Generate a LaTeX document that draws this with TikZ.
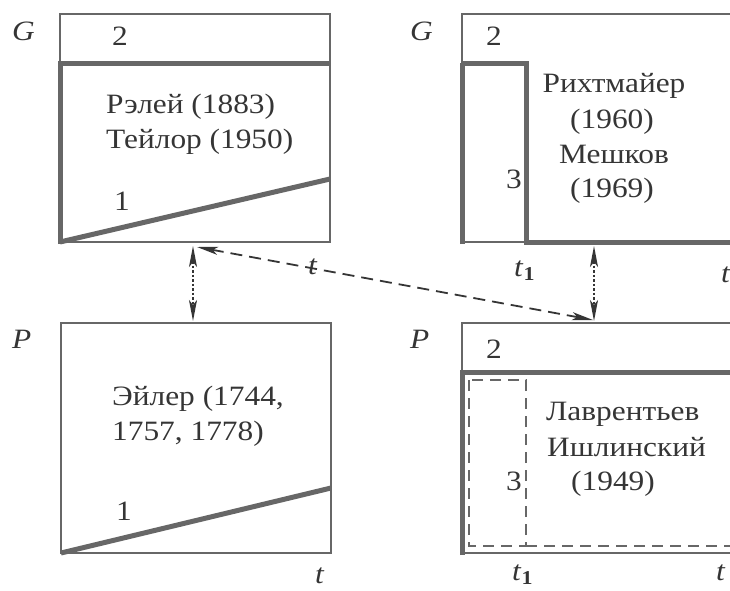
\documentclass[tikz,border=0pt]{standalone}
\usepackage{fontspec}
\setmainfont{Liberation Serif}[FakeStretch=1.12]
\usetikzlibrary{arrows.meta}
\definecolor{frame}{HTML}{676767}
\definecolor{ink}{HTML}{353535}
\begin{document}
\begin{tikzpicture}[x=1pt,y=-1pt,
  thinline/.style={draw=frame,line width=2.4pt},
  thickline/.style={draw=frame,line width=5pt},
  dashline/.style={draw=frame,line width=2.4pt,dash pattern=on 11pt off 7pt},
  lbl/.style={text=ink,font=\fontsize{28}{33}\selectfont,inner sep=0pt},
  link/.style={draw=ink,line width=1.8pt,
    {Stealth[length=21pt,width=8pt,inset=5pt]}-{Stealth[length=21pt,width=8pt,inset=5pt]}}]
\clip (0,0) rectangle (730,590);

% --- G, case 1/2 (top left)
\draw[thinline] (60,63) -- (60,14) -- (330,14) -- (330,242) -- (60,242);
\draw[thickline] (60,244) -- (60,63) -- (331,63);
\draw[thickline] (60,242) -- (330,179);
\node[lbl,anchor=base west] (gl) at (12,40) {\textit{G}};
\node[lbl,anchor=base west] (gl2) at (112,45) {2};
\node[lbl,anchor=base west] (gl1) at (114,210) {1};
\node[lbl,anchor=base west] (glt1) at (106,113) {Рэлей (1883)};
\node[lbl,anchor=base west] (glt2) at (106,148) {Тейлор (1950)};
\node[lbl,anchor=base west] (glt) at (308,274) {\textit{t}};

% --- G, case 2/3 (top right)
\draw[thinline] (462,63) -- (462,14) -- (735,14);
\draw[thinline] (462,242) -- (526,242);
\draw[thickline] (462,63) -- (526,63) -- (526,242) -- (735,242);
\draw[thickline] (462,244) -- (462,63);
\node[lbl,anchor=base west] (gr) at (410,40) {\textit{G}};
\node[lbl,anchor=base west] (gr2) at (486,45) {2};
\node[lbl,anchor=base west] (gr3) at (506,188) {3};
\node[lbl,anchor=base] (grt1) at (614,92) {Рихтмайер};
\node[lbl,anchor=base] (grt2) at (612,128) {(1960)};
\node[lbl,anchor=base] (grt3) at (614,163) {Мешков};
\node[lbl,anchor=base] (grt4) at (612,197) {(1969)};
\node[lbl,anchor=base west] (grtone) at (514,276) {\textit{t}\textsubscript{\bfseries 1}};
\node[lbl,anchor=base west] (grt) at (721,282) {\textit{t}};

% --- P, case 1 (bottom left)
\draw[thinline] (61,323) rectangle (331,553);
\draw[thickline] (61,553) -- (331,488);
\node[lbl,anchor=base west] (pl) at (12,348) {\textit{P}};
\node[lbl,anchor=base west] (plt1) at (112,405) {Эйлер (1744,};
\node[lbl,anchor=base west] (plt2) at (112,440) {1757, 1778)};
\node[lbl,anchor=base west] (pl1) at (116,520) {1};
\node[lbl,anchor=base west] (plt) at (315,583) {\textit{t}};

% --- P, case 2/3 (bottom right)
\draw[thinline] (462,372) -- (462,323) -- (735,323);
\draw[thinline] (462,553) -- (735,553);
\draw[thickline] (462,555) -- (462,372) -- (735,372);
\draw[dashline] (469,380) rectangle (526,546);
\draw[dashline] (526,546) -- (735,546);
\node[lbl,anchor=base west] (pr) at (410,348) {\textit{P}};
\node[lbl,anchor=base west] (pr2) at (486,358) {2};
\node[lbl,anchor=base west] (pr3) at (506,490) {3};
\node[lbl,anchor=base west] (prt1) at (546,420) {Лаврентьев};
\node[lbl,anchor=base west] (prt2) at (547,456) {Ишлинский};
\node[lbl,anchor=base west] (prt3) at (571,490) {(1949)};
\node[lbl,anchor=base west] (prtone) at (512,580) {\textit{t}\textsubscript{\bfseries 1}};
\node[lbl,anchor=base west] (prt) at (716,580) {\textit{t}};

% --- links between the cases
\coordinate (aGL) at (193,246);
\coordinate (aPL) at (193,321);
\coordinate (aGR) at (594,246);
\coordinate (aPR) at (594,321);
\coordinate (dGL) at (197,247);
\coordinate (dPR) at (593,320);
\draw[link,dash pattern=on 2.5pt off 2pt] (aGL) -- (aPL);
\draw[link,dash pattern=on 2.5pt off 2pt] (aGR) -- (aPR);
\draw[link,dash pattern=on 12pt off 7pt] (dGL) -- (dPR);
\end{tikzpicture}
\end{document}
